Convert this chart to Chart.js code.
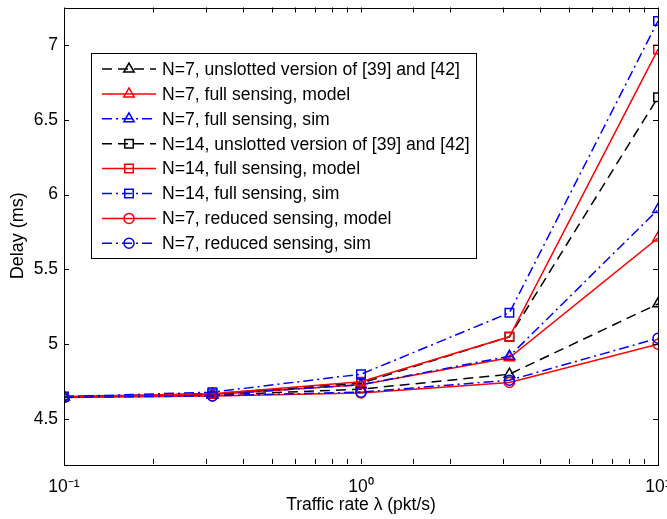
<!DOCTYPE html>
<html>
<head>
<meta charset="utf-8">
<script src="https://cdn.jsdelivr.net/npm/chart.js"></script>
<style>
  html, body { margin: 0; padding: 0; background: #fff; overflow: hidden; }
  canvas { display: block; }
</style>
</head>
<body>
<canvas id="delayChart" width="667" height="519"></canvas>
<script>
const trafficRate = [0.1, 0.316, 1, 3.16, 10];

const seriesLabels = [
    "N=7, unslotted version of [39] and [42]",
    "N=7, full sensing, model",
    "N=7, full sensing, sim",
    "N=14, unslotted version of [39] and [42]",
    "N=14, full sensing, model",
    "N=14, full sensing, sim",
    "N=7, reduced sensing, model",
    "N=7, reduced sensing, sim"
];

const n7Unslotted = [4.65, 4.66, 4.70, 4.80, 5.27];
const n7FullModel = [4.65, 4.665, 4.73, 4.91, 5.71];
const n7FullSim = [4.65, 4.665, 4.73, 4.92, 5.90];
const n14Unslotted = [4.65, 4.67, 4.74, 5.05, 6.65];
const n14FullModel = [4.65, 4.67, 4.75, 5.05, 6.97];
const n14FullSim = [4.65, 4.68, 4.80, 5.21, 7.16];
const n7ReducedModel = [4.645, 4.655, 4.675, 4.745, 5.00];
const n7ReducedSim = [4.645, 4.655, 4.68, 4.76, 5.04];

const xMajorTicks = [0.1, 1, 10];
const xTickLabels = ["10\u207B\u00B9", "10\u2070", "10\u00B9"];
const yTicks = [4.5, 5, 5.5, 6, 6.5, 7];
const yTickLabels = ["4.5", "5", "5.5", "6", "6.5", "7"];

const FONT = "'Liberation Sans', Arial, Helvetica, sans-serif";
const DASHED = [10, 6];
const DASHDOT = [10, 4, 2, 4];

const styles = [
    { color: "#000000", dash: DASHED, marker: "triangle", r: 6 },
    { color: "#ff0000", dash: [], marker: "triangle", r: 6 },
    { color: "#0000ff", dash: DASHDOT, marker: "triangle", r: 6 },
    { color: "#000000", dash: DASHED, marker: "rect", r: 6 },
    { color: "#ff0000", dash: [], marker: "rect", r: 6 },
    { color: "#0000ff", dash: DASHDOT, marker: "rect", r: 6 },
    { color: "#ff0000", dash: [], marker: "circle", r: 5 },
    { color: "#0000ff", dash: DASHDOT, marker: "circle", r: 5 }
];

const allSeries = [n7Unslotted, n7FullModel, n7FullSim, n14Unslotted,
    n14FullModel, n14FullSim, n7ReducedModel, n7ReducedSim];

const datasets = allSeries.map((vals, i) => ({
    label: seriesLabels[i],
    data: vals.map((v, k) => ({ x: trafficRate[k], y: v })),
    borderColor: styles[i].color,
    borderDash: styles[i].dash,
    borderWidth: 1.5,
    pointStyle: styles[i].marker,
    pointRadius: styles[i].r,
    pointBorderWidth: 1.5,
    pointBorderColor: styles[i].color,
    pointBackgroundColor: "rgba(0,0,0,0)",
    tension: 0,
    fill: false,
    order: allSeries.length - i
}));

function drawMarker(ctx, style, r, x, y) {
    ctx.beginPath();
    if (style === "triangle") {
        ctx.moveTo(x, y - r);
        ctx.lineTo(x + r * Math.sin(Math.PI / 3), y + r * 0.5);
        ctx.lineTo(x - r * Math.sin(Math.PI / 3), y + r * 0.5);
        ctx.closePath();
    } else if (style === "rect") {
        const s = Math.SQRT1_2 * r;
        ctx.rect(x - s, y - s, 2 * s, 2 * s);
    } else {
        ctx.arc(x, y, r, 0, Math.PI * 2);
    }
    ctx.stroke();
}

// matlab style box with inward ticks
const boxTicks = {
    id: "boxTicks",
    afterDraw(chart) {
        const { ctx, chartArea: a, scales } = chart;
        const len = 5;
        ctx.save();
        ctx.strokeStyle = "#000";
        ctx.lineWidth = 1;
        ctx.setLineDash([]);
        ctx.beginPath();
        scales.y.ticks.forEach(t => {
            const py = Math.round(scales.y.getPixelForValue(t.value)) + 0.5;
            ctx.moveTo(a.left, py); ctx.lineTo(a.left + len, py);
            ctx.moveTo(a.right, py); ctx.lineTo(a.right - len, py);
        });
        scales.x.ticks.forEach(t => {
            const px = Math.round(scales.x.getPixelForValue(t.value)) + 0.5;
            ctx.moveTo(px, a.bottom); ctx.lineTo(px, a.bottom - len);
            ctx.moveTo(px, a.top); ctx.lineTo(px, a.top + len);
        });
        ctx.stroke();
        ctx.strokeRect(Math.round(a.left) + 0.5, Math.round(a.top) + 0.5,
            Math.round(a.right - a.left), Math.round(a.bottom - a.top));
        ctx.restore();
    }
};

const lineLegend = {
    id: "lineLegend",
    afterDraw(chart) {
        const ctx = chart.ctx;
        const left = 91, top = 53, width = 385, height = 205;
        const rowH = 24.9, firstRow = 69;
        ctx.save();
        ctx.fillStyle = "#fff";
        ctx.fillRect(left, top, width, height);
        ctx.strokeStyle = "#000";
        ctx.lineWidth = 1;
        ctx.setLineDash([]);
        ctx.strokeRect(left + 0.5, top + 0.5, width, height);
        chart.data.datasets.forEach((ds, i) => {
            const y = firstRow + i * rowH;
            ctx.strokeStyle = ds.borderColor;
            ctx.lineWidth = ds.borderWidth;
            ctx.setLineDash(ds.borderDash);
            ctx.beginPath();
            ctx.moveTo(102, y);
            ctx.lineTo(156, y);
            ctx.stroke();
            ctx.setLineDash([]);
            ctx.lineWidth = ds.pointBorderWidth;
            drawMarker(ctx, ds.pointStyle, ds.pointRadius, 129, y);
            ctx.fillStyle = "#000";
            ctx.font = "17.6px " + FONT;
            ctx.textBaseline = "middle";
            ctx.textAlign = "left";
            ctx.fillText(ds.label, 162, y + 1);
        });
        ctx.restore();
    }
};

new Chart(document.getElementById("delayChart"), {
    type: "line",
    data: { datasets: datasets },
    options: {
        responsive: false,
        animation: false,
        devicePixelRatio: 1,
        layout: { padding: { top: 5, right: 9, left: 0, bottom: 0 } },
        plugins: {
            legend: { display: false },
            tooltip: { enabled: false }
        },
        scales: {
            x: {
                type: "logarithmic",
                min: 0.1,
                max: 10,
                grid: { display: false, drawTicks: false },
                border: { display: false },
                ticks: {
                    autoSkip: false,
                    maxRotation: 0,
                    color: "#000",
                    padding: 13,
                    font: { family: FONT, size: 17.5 },
                    callback: (v) => {
                        const i = xMajorTicks.findIndex(m => Math.abs(m - v) / m < 1e-6);
                        return i >= 0 ? xTickLabels[i] : "";
                    }
                },
                title: {
                    display: true,
                    text: "Traffic rate \u03BB (pkt/s)",
                    color: "#000",
                    font: { family: FONT, size: 17.5 },
                    padding: { top: 0, bottom: 3 }
                },
                afterFit: (s) => { s.height = 55; s.paddingLeft = 0; s.paddingRight = 0; }
            },
            y: {
                min: 4.2,
                max: 7.25,
                grid: { display: false, drawTicks: false },
                border: { display: false },
                afterBuildTicks: (s) => { s.ticks = yTicks.map(v => ({ value: v })); },
                ticks: {
                    color: "#000",
                    padding: 6,
                    font: { family: FONT, size: 17.5 },
                    callback: (v) => {
                        const i = yTicks.findIndex(t => Math.abs(t - v) < 1e-6);
                        return i >= 0 ? yTickLabels[i] : "";
                    }
                },
                title: {
                    display: true,
                    text: "Delay (ms)",
                    color: "#000",
                    font: { family: FONT, size: 18 },
                    padding: { top: 7, bottom: 0 }
                },
                afterFit: (s) => { s.width = 64; s.paddingTop = 0; s.paddingBottom = 0; }
            }
        }
    },
    plugins: [boxTicks, lineLegend]
});
</script>
</body>
</html>
